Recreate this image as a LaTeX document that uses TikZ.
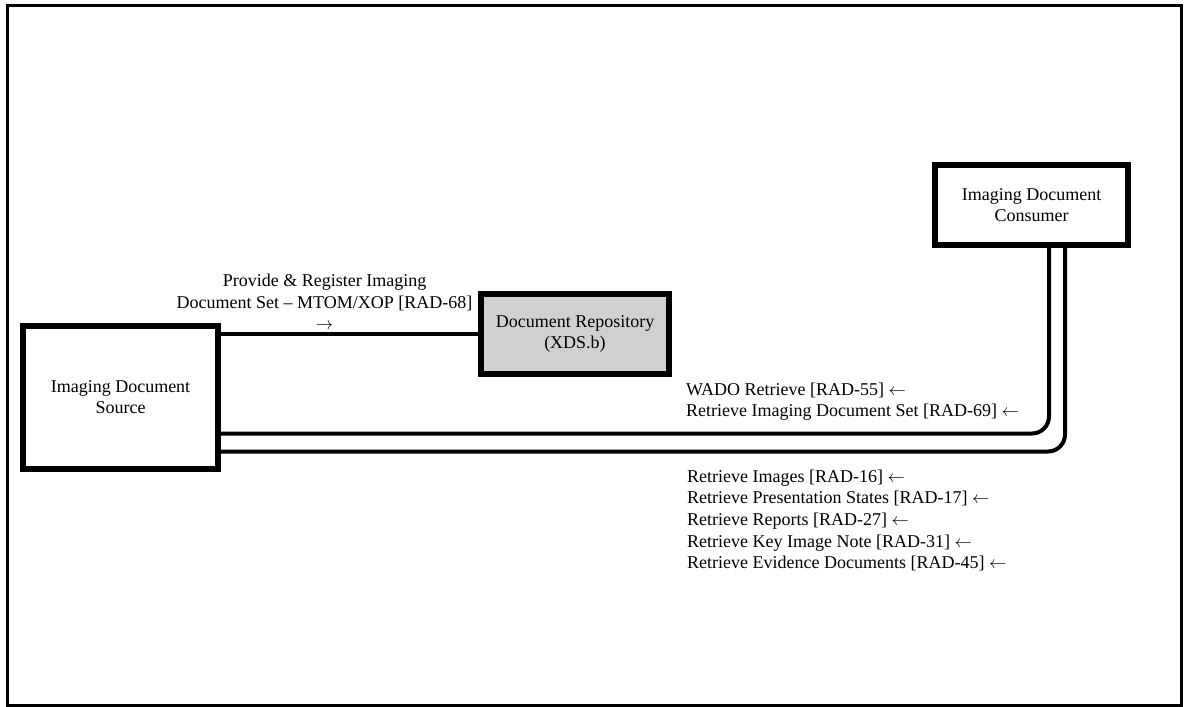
\documentclass[tikz,border=0pt]{standalone}
\usepackage{fontspec}
\setmainfont{Liberation Serif}
\newcommand{\la}{\ensuremath{\leftarrow}}
\newcommand{\ra}{\ensuremath{\rightarrow}}
\begin{document}
\begin{tikzpicture}[x=1pt,y=-1pt,
  actor/.style={draw, line width=6pt, inner sep=0pt, align=center, font=\fontsize{18}{21}\selectfont},
  conn/.style={line width=4pt},
  lbl/.style={inner sep=0pt, font=\fontsize{18}{21.6}\selectfont}]
\useasboundingbox (0,0) rectangle (1184,707);
\draw[line width=3.5pt] (7.5,5.5) rectangle (1181.5,705.5);
\node[actor, minimum width=195pt, minimum height=143pt] (src) at (120.5,397.5) {Imaging Document\\Source};
\node[actor, fill={rgb,255:red,208;green,208;blue,208}, minimum width=188pt, minimum height=80pt] (repo) at (575,334) {Document Repository\\(XDS.b)};
\node[actor, minimum width=193pt, minimum height=80pt] (cons) at (1031.5,205) {Imaging Document\\Consumer};
\coordinate (a2) at (221,433.5);
\coordinate (b2) at (1049,433.5);
\coordinate (a3) at (221,451.5);
\coordinate (b3) at (1065,451.5);
\draw[conn] (repo.west -| src.east) -- (repo.west);
\draw[conn, rounded corners=17pt] (a2) -- (b2) -- (b2 |- cons.south);
\draw[conn, rounded corners=17pt] (a3) -- (b3) -- (b3 |- cons.south);
\node[lbl, align=center] (l1) at (324.5,302) {Provide \& Register Imaging\\Document Set – MTOM/XOP [RAD-68]\\\ra};
\node[lbl, align=left, anchor=west] (l2) at (686,401.5) {WADO Retrieve [RAD-55] \la\\Retrieve Imaging Document Set [RAD-69] \la};
\node[lbl, align=left, anchor=west] (l3) at (687,520.5) {Retrieve Images [RAD-16] \la\\Retrieve Presentation States [RAD-17] \la\\Retrieve Reports [RAD-27] \la\\Retrieve Key Image Note [RAD-31] \la\\Retrieve Evidence Documents [RAD-45] \la};
\end{tikzpicture}
\end{document}
